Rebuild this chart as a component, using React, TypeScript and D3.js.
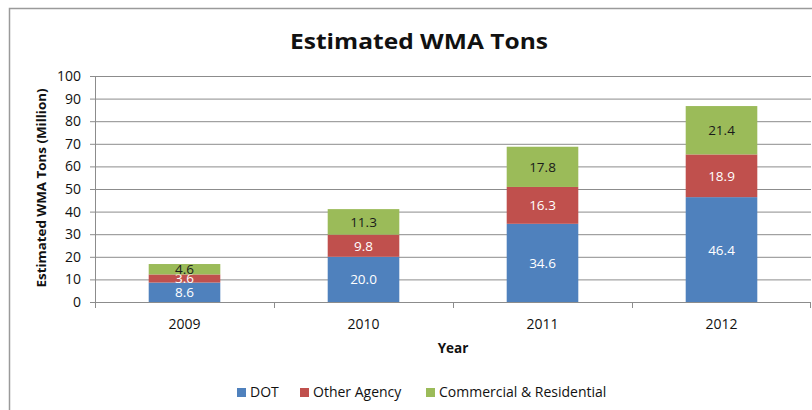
import React from "react";
import * as d3 from "d3";

const years = ["2009", "2010", "2011", "2012"];
const dot = [8.6, 20.0, 34.6, 46.4];
const otherAgency = [3.6, 9.8, 16.3, 18.9];
const commercial = [4.6, 11.3, 17.8, 21.4];
const yTicks = [0, 10, 20, 30, 40, 50, 60, 70, 80, 90, 100];
const seriesNames = ["DOT", "Other Agency", "Commercial & Residential"];
const seriesColors = ["#4F81BD", "#C0504D", "#9BBB59"];
const labelColors = ["#ffffff", "#ffffff", "#1a1a1a"];

const FONT = "'Open Sans', Lato, sans-serif";

export default function App() {
  const W = 812, H = 410;
  const left = 95, right = 811, top = 76, bottom = 302;
  const x = d3.scaleBand().domain(years).range([left, right]).paddingInner(0.6).paddingOuter(0.3);
  const xb = d3.scaleBand().domain(years).range([left, right]);
  const y = d3.scaleLinear().domain([0, 100]).range([bottom, top]);

  const rows = years.map((yr, i) => ({ year: yr, s0: dot[i], s1: otherAgency[i], s2: commercial[i] }));
  const stack = d3.stack<any>().keys(["s0", "s1", "s2"])(rows);

  const legendX = [237, 300, 426];

  return (
    <svg width={W} height={H} style={{ position: "absolute", left: 0, top: 0 }}>
      <rect x={0} y={0} width={W} height={H} fill="#fff" />
      <path d={`M9.5,${H} V8.5 H${W}`} fill="none" stroke="#9a9a9a" strokeWidth={1.5} />
      <text x={419} y={49} textAnchor="middle" fontFamily={FONT} fontWeight="bold" fontSize={22} fill="#111"
        textLength={258} lengthAdjust="spacingAndGlyphs">
        Estimated WMA Tons
      </text>
      {yTicks.map((t) => (
        <g key={t}>
          {t > 0 && <line x1={left} x2={right} y1={y(t) + 0.5} y2={y(t) + 0.5} stroke="#8c8c8c" strokeWidth={1} />}
          <line x1={left - 5} x2={left} y1={y(t) + 0.5} y2={y(t) + 0.5} stroke="#8c8c8c" />
          <text x={left - 14} y={y(t) + 5} textAnchor="end" fontFamily={FONT} fontSize={14} fill="#111">
            {t}
          </text>
        </g>
      ))}
      <line x1={left + 0.5} x2={left + 0.5} y1={top} y2={bottom} stroke="#8c8c8c" />
      {stack.map((layer, si) =>
        layer.map((d, i) => {
          const h = y(d[0]) - y(d[1]);
          const cx = x(years[i])! + x.bandwidth() / 2;
          const val = (rows[i] as any)[`s${si}`] as number;
          return (
            <g key={`${si}-${i}`}>
              <rect x={x(years[i])!} y={y(d[1])} width={x.bandwidth()} height={h} fill={seriesColors[si]} />
              <text x={cx} y={(y(d[0]) + y(d[1])) / 2 + 5} textAnchor="middle" fontFamily={FONT} fontSize={13.5}
                fill={labelColors[si]}>
                {val.toFixed(1)}
              </text>
            </g>
          );
        })
      )}
      <line x1={left} x2={right} y1={bottom + 0.5} y2={bottom + 0.5} stroke="#8c8c8c" />
      {years.map((yr, i) => (
        <line key={yr} x1={xb(yr)! + xb.bandwidth() + 0.5 - (i === years.length - 1 ? 1 : 0)}
          x2={xb(yr)! + xb.bandwidth() + 0.5 - (i === years.length - 1 ? 1 : 0)} y1={bottom} y2={bottom + 6} stroke="#8c8c8c" />
      ))}
      <line x1={left + 0.5} x2={left + 0.5} y1={bottom} y2={bottom + 6} stroke="#8c8c8c" />
      {years.map((yr) => (
        <text key={yr} x={xb(yr)! + xb.bandwidth() / 2} y={329} textAnchor="middle" fontFamily={FONT} fontSize={14} fill="#111">
          {yr}
        </text>
      ))}
      <text x={453} y={353} textAnchor="middle" fontFamily={FONT} fontWeight="bold" fontSize={13.5} fill="#111">Year</text>
      <text transform={`translate(46,188) rotate(-90)`} textAnchor="middle" fontFamily={FONT} fontWeight="bold" fontSize={12.5} fill="#111"
        textLength={199} lengthAdjust="spacingAndGlyphs">
        Estimated WMA Tons (Million)
      </text>
      {seriesNames.map((n, i) => (
        <g key={n}>
          <rect x={legendX[i]} y={388} width={9} height={9} fill={seriesColors[i]} />
          <text x={legendX[i] + 13} y={397} fontFamily={FONT} fontSize={14} fill="#111">{n}</text>
        </g>
      ))}
    </svg>
  );
}
